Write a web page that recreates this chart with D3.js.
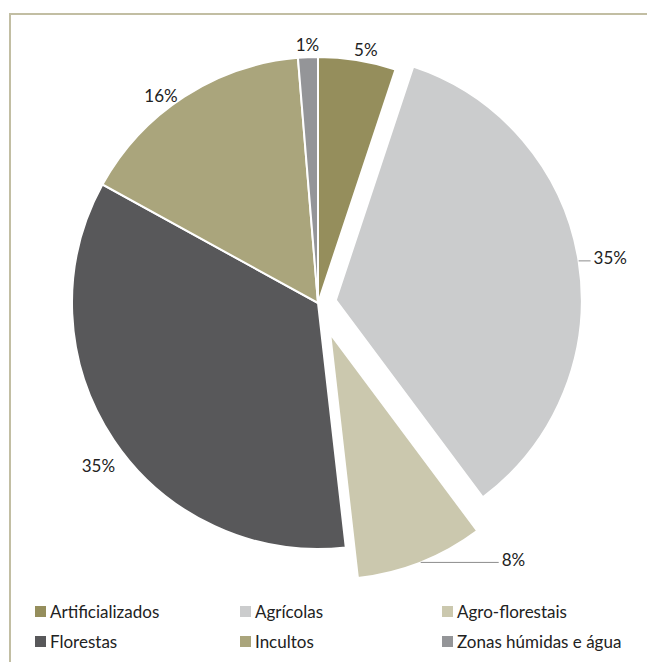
<!DOCTYPE html>
<html><head><meta charset="utf-8">
<script src="https://cdn.jsdelivr.net/npm/d3@7"></script>
<style>html,body{margin:0;padding:0;background:#fff;}svg{display:block;}</style>
</head><body>
<svg id="c" width="647" height="662"></svg>
<script>
const categories = ["Artificializados","Agrícolas","Agro-florestais","Florestas","Incultos","Zonas húmidas e água"];
const values = [5.1, 34.7, 8.4, 34.8, 15.7, 1.3];
const labels = ["5%","35%","8%","35%","16%","1%"];
const colors = ["#958e5c","#cbcccd","#cbc8ae","#58585a","#aaa57c","#949598"];

const svg = d3.select("#c");
const font = "Lato, 'Open Sans', sans-serif";
// frame
svg.append("path").attr("d","M10,662 V14 H647").attr("fill","none").attr("stroke","#c2bea3").attr("stroke-width",2);

const cx = 318, cy = 303, R = 246;
const explode = [0, 18, 33, 0, 0, 0];
const pie = d3.pie().sort(null).value(d=>d)(values);
const arc = d3.arc().innerRadius(0).outerRadius(R);
const g = svg.append("g").attr("transform",`translate(${cx},${cy})`);

pie.forEach((p,i)=>{
  const mid = (p.startAngle+p.endAngle)/2;
  const ox = Math.sin(mid)*explode[i], oy = -Math.cos(mid)*explode[i];
  g.append("path").attr("d",arc(p)).attr("fill",colors[i])
    .attr("stroke","#fff").attr("stroke-width",2).attr("stroke-linejoin","miter")
    .attr("transform",`translate(${ox},${oy})`);
});

// label placement tweaks (angle deg, radial extra)
const lab = [
  {dA:1.5,dR:12},{leader:12},{leader:78},{dA:-2.6,dR:27},{dA:-4.2,dR:14},{dA:0,dR:13}
];
pie.forEach((p,i)=>{
  const mid = (p.startAngle+p.endAngle)/2;
  const ox = Math.sin(mid)*explode[i], oy = -Math.cos(mid)*explode[i];
  const L = lab[i];
  if (L.leader) {
    const ax = ox + Math.sin(mid)*R, ay = oy - Math.cos(mid)*R;
    g.append("line").attr("x1",ax).attr("y1",ay).attr("x2",ax+L.leader).attr("y2",ay)
      .attr("stroke","#8c8c8c").attr("stroke-width",1);
    g.append("text").attr("x",ax+L.leader+3).attr("y",ay-3).attr("dominant-baseline","central")
      .attr("font-family",font).attr("font-size",17).attr("fill","#222").text(labels[i]);
  } else {
    const a = mid + L.dA*Math.PI/180, rr = R + L.dR;
    g.append("text").attr("x",Math.sin(a)*rr).attr("y",-Math.cos(a)*rr)
      .attr("text-anchor","middle").attr("dominant-baseline","central")
      .attr("font-family",font).attr("font-size",17).attr("fill","#222").text(labels[i]);
  }
});

// legend
const colX = [35, 240, 442], rowY = [611, 641];
categories.forEach((c,i)=>{
  const x = colX[i%3], y = rowY[Math.floor(i/3)];
  svg.append("rect").attr("x",x).attr("y",y-5).attr("width",11).attr("height",11).attr("fill",colors[i]);
  svg.append("text").attr("x",x+15).attr("y",y).attr("dominant-baseline","central")
    .attr("font-family",font).attr("font-size",17).attr("fill","#222").text(c);
});
</script>
</body></html>
